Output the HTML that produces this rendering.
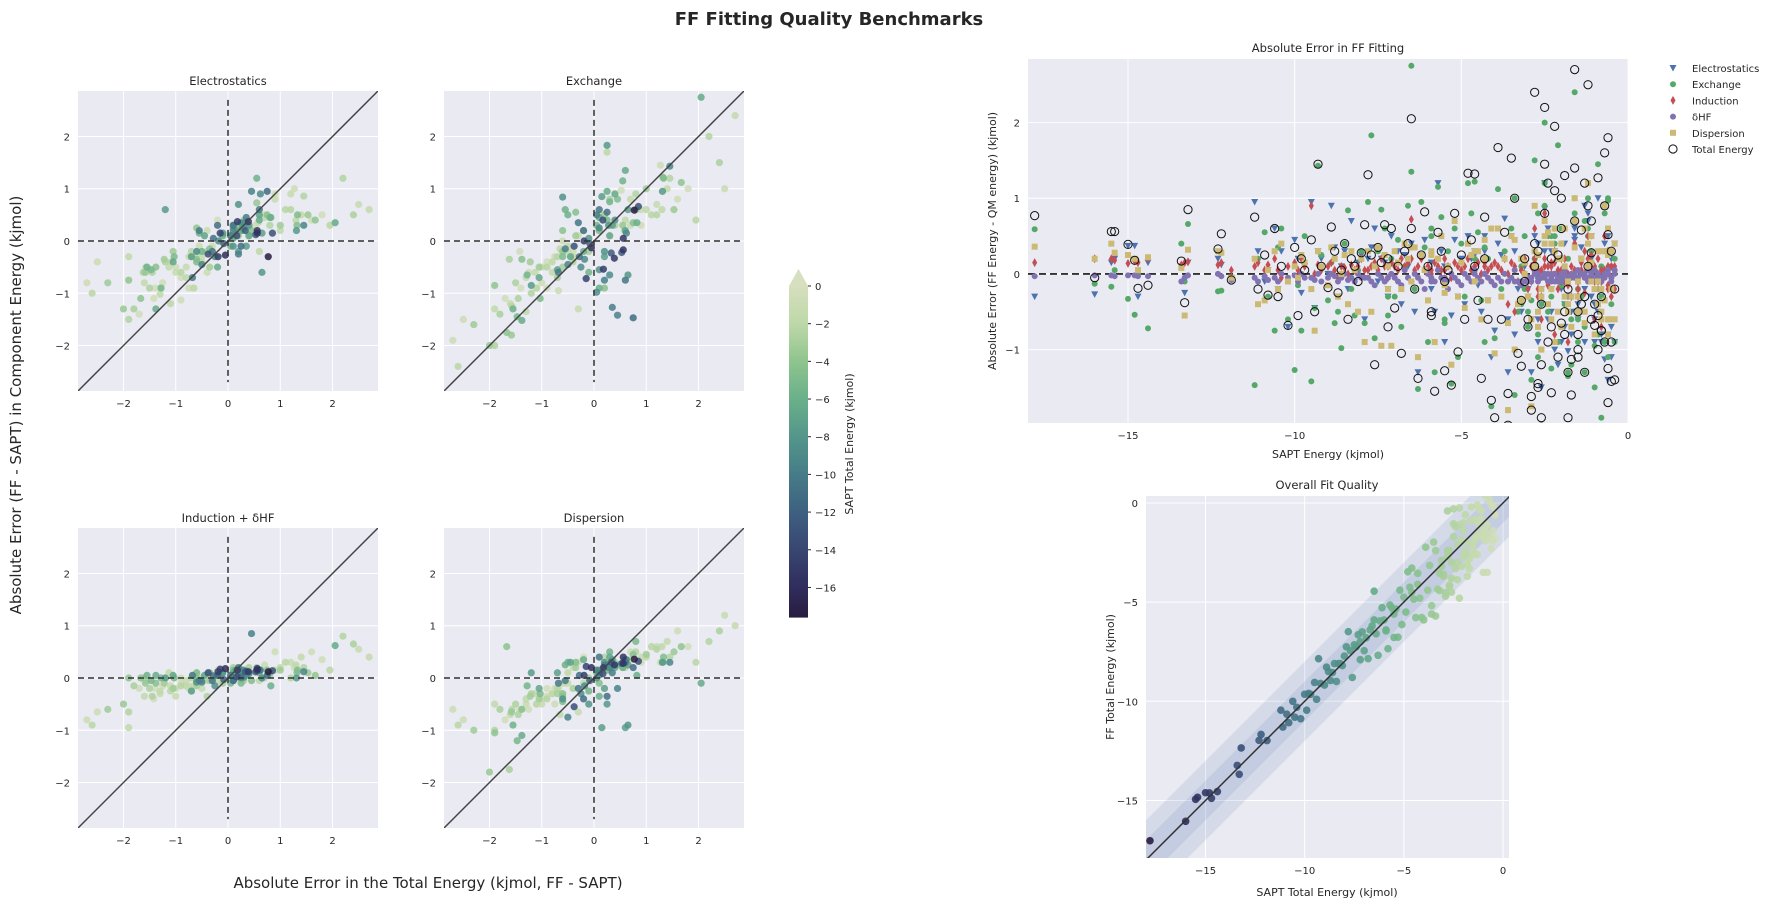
<!DOCTYPE html>
<html><head><meta charset="utf-8"><style>
body{margin:0;background:#fff;}
svg{display:block;font-family:"DejaVu Sans","Liberation Sans",sans-serif;}
</style></head><body>
<svg id="fig" width="1779" height="907" viewBox="0 0 1779 907" xmlns="http://www.w3.org/2000/svg">
<text x="829" y="25" text-anchor="middle" font-size="18" font-weight="bold" fill="#262626">FF Fitting Quality Benchmarks</text>
<text transform="translate(21,405) rotate(-90)" text-anchor="middle" font-size="15" fill="#262626">Absolute Error (FF - SAPT) in Component Energy (kjmol)</text>
<text x="428" y="888" text-anchor="middle" font-size="15" fill="#262626">Absolute Error in the Total Energy (kjmol, FF - SAPT)</text>
</svg>
<script>
const saptE = [-17.8,-16.0,-15.5,-15.4,-15.0,-14.8,-14.7,-14.4,-13.4,-13.3,-13.2,-12.3,-12.2,-11.9,
-11.2,-11.1,-10.9,-10.8,-10.6,-10.5,-10.4,-10.2,-10.0,-9.9,-9.8,-9.7,-9.5,-9.4,-9.3,-9.2,-9.0,-8.9,-8.8,-8.7,-8.6,-8.5,-8.4,-8.3,-8.2,-8.1,-8.0,-7.9,
-7.8,-7.7,-7.6,-7.5,-7.4,-7.3,-7.2,-7.1,-7.0,-6.9,-6.8,-6.7,-6.6,-6.5,-6.4,-6.3,-6.2,-6.1,-6.0,-5.9,-5.8,-5.7,-5.6,-5.5,-5.4,-5.3,-5.2,-5.1,-5.0,-4.9,-4.8,-4.7,-4.6,-4.5,-4.4,-4.3,-4.2,-4.1,-4.0,-4.6,-5.5,-6.5,-7.2,-5.9,-4.3,
-3.9,-3.8,-3.7,-3.6,-3.5,-3.4,-3.3,-3.2,-3.1,-3.0,-2.9,-2.8,-2.7,-2.6,-2.5,-2.4,-2.3,-2.2,-2.1,-2.0,-1.9,-1.8,-1.7,-1.6,-1.5,-1.4,-1.3,-1.2,-1.1,-1.0,-0.9,-0.8,-0.7,-0.6,-0.5,-3.4,-2.8,-2.2,-1.6,-1.0,-0.6,-3.6,-2.5,-1.8,-1.2,-0.8,-2.0,-1.5,-0.7,-3.1,
-2.9,-2.7,-2.6,-2.4,-2.3,-2.1,-1.9,-1.7,-1.5,-1.4,-1.3,-1.1,-0.9,-0.8,-0.6,-0.5,-0.4,-2.8,-2.5,-2.2,-2.0,-1.8,-1.6,-1.2,-1.0,-0.7,-0.5,-0.4,-3.0,-2.6,-2.3,-1.9,-1.5,-1.1,-0.9,-0.6,-3.2,-2.7,-1.3,-0.8];
const totalErr = [0.77,-0.05,0.56,0.56,0.39,0.18,-0.19,-0.15,0.17,-0.38,0.85,0.33,0.53,-0.08,
0.75,-0.2,0.25,-0.28,0.6,-0.3,0.1,-0.68,0.35,-0.55,0.2,0.05,0.45,-0.5,1.45,0.1,-0.18,0.62,0.3,-0.25,0.05,0.4,-0.6,0.2,0.1,-0.1,0.28,0.65,
1.31,0.25,-1.2,0.35,0.15,0.65,-0.7,0.6,-0.45,0.1,-1.05,0.3,0.4,2.05,-0.2,-1.38,0.25,0.82,0.1,-0.5,-1.55,0.55,0.3,-0.1,0.05,-1.47,0.8,-1.03,0.25,-0.6,1.33,0.45,0.1,-0.35,-1.38,0.2,-0.6,-1.67,-1.9,1.32,-1.28,0.6,0.2,-0.55,0.75,
1.67,-0.6,0.55,-1.58,1.53,1.0,-1.05,-1.22,0.2,-0.7,-1.62,0.1,0.3,-0.4,1.45,1.2,-1.57,1.95,0.25,-0.65,1.3,-1.3,-1.13,0.7,-0.5,0.58,-0.3,0.1,0.28,-0.68,1.27,-0.75,-0.9,0.52,-1.42,-2.3,2.4,-2.6,2.7,-2.5,1.8,-2.0,2.2,-1.9,2.5,-2.7,1.0,-1.0,0.9,-0.1,
-1.8,-1.5,-1.2,-0.9,-0.7,-1.1,-0.5,-1.6,-0.8,-0.4,-1.3,-0.6,-1.0,-0.3,-1.7,-0.9,-0.2,0.4,0.8,1.1,0.6,-0.2,1.4,0.9,-0.4,1.6,0.3,-1.4,-0.6,-1.9,0.2,-0.8,-1.1,0.7,-0.55,-1.25,-0.35,-1.45,1.2,-0.75];
const elstErr = [-0.3,-0.27,0.15,0.2,0.37,0.37,-0.3,0.15,0.1,-0.25,0.15,0.2,0.12,-0.05,
0.95,0.3,-0.1,0.05,0.6,-0.2,0.3,-0.7,0.45,0.2,-0.25,0.1,0.95,-0.45,0.3,0.2,0.0,0.9,0.35,-0.3,0.1,0.3,-0.2,0.7,-0.1,0.15,0.25,-0.6,
0.2,0.35,0.6,-0.1,0.2,0.15,-0.3,0.5,0.1,0.3,-0.4,0.25,0.1,0.35,-0.5,-1.3,0.2,0.45,0.05,-0.2,-0.5,1.2,0.3,0.1,-0.1,-0.55,0.45,-0.3,0.2,-0.4,0.5,0.2,0.25,-0.15,-0.5,0.3,-0.35,-1.1,-0.75,0.3,-0.9,0.4,-0.2,0.15,0.5,
0.4,0.25,0.73,-0.6,0.5,0.3,-0.2,-0.35,0.1,-0.3,-0.6,0.05,0.4,-0.2,0.86,0.6,-0.5,0.3,0.2,-0.9,0.4,-1.02,-0.5,0.45,-0.3,0.35,-0.2,0.1,0.2,-0.9,1.0,-0.9,-1.13,0.3,-1.1,-0.8,0.5,-1.0,0.6,-0.4,0.5,-1.3,1.2,-0.3,0.7,-0.8,0.2,-0.6,0.9,0.1,
-1.3,-0.9,-0.4,-0.6,-0.2,-1.2,-0.4,-0.8,-0.5,0.2,-0.9,-0.3,-0.5,-0.1,-1.4,-0.7,0.4,0.1,0.3,0.6,-0.2,-0.3,0.5,0.8,-0.6,0.4,0.2,-0.9,-0.2,-1.5,0.3,-0.7,-0.4,0.5,-0.1,-0.8,-0.5,-0.6,0.9,-0.3];
const exchErr = [0.59,-0.13,-0.17,0.05,-0.33,-0.54,0.0,-0.72,0.4,-0.1,0.66,-0.23,-0.22,-0.05,
-1.47,0.2,0.55,-0.3,-0.75,0.35,0.6,-0.6,-1.27,-0.15,-0.75,0.5,-1.42,-0.45,1.43,0.25,-0.35,0.15,-0.65,-0.5,-0.98,0.4,0.84,-0.2,-0.55,0.05,0.3,-0.65,
0.95,1.83,-0.85,0.3,0.85,0.6,-0.55,0.2,-0.3,0.45,-0.7,0.1,0.9,2.75,-0.2,-1.52,0.95,0.35,-0.9,0.5,-1.3,1.15,0.75,-0.6,0.3,-1.45,0.6,-1.1,0.4,-0.3,1.2,0.8,0.2,0.55,-0.35,-0.9,0.2,-1.75,-0.85,1.22,-0.65,1.35,-0.3,0.6,0.35,
1.12,-0.2,0.3,-1.8,0.6,1.0,-0.5,-0.4,0.5,-0.7,-0.35,0.2,0.8,-0.4,1.2,0.5,-1.25,0.4,1.7,-0.15,0.6,-1.35,-0.6,0.8,-0.2,0.2,-1.3,0.5,0.3,-0.95,1.45,-0.6,-0.9,0.97,-0.2,-1.6,1.5,-2.4,2.4,-1.5,1.0,-2.0,2.0,-1.3,1.0,-1.9,0.6,-0.5,0.3,-0.2,
-1.4,-0.8,-1.0,-0.5,-0.3,-0.9,-0.1,-1.2,-0.6,-0.3,-0.7,0.0,-0.8,0.1,-1.1,-0.4,0.2,0.3,0.9,0.5,0.4,0.2,1.0,0.6,-0.2,0.8,0.1,-0.9,-0.5,-2.0,0.5,-0.4,-0.9,0.3,-0.2,-0.6,0.1,-1.1,0.7,-0.3];
const indErr = [0.15,0.2,0.2,0.18,0.14,0.17,0.15,0.2,0.12,0.15,0.16,0.12,0.15,0.05,
0.1,0.15,0.05,0.12,0.2,0.05,-0.05,0.1,0.15,0.05,0.2,0.1,0.9,0.0,0.12,0.05,0.1,0.15,0.05,-0.05,0.1,0.08,0.0,0.12,0.05,0.1,0.2,0.05,
0.05,0.1,0.15,0.05,0.2,0.1,-0.05,0.15,0.1,0.05,0.2,0.1,0.15,0.72,0.05,0.1,0.2,0.05,0.1,0.0,0.15,0.1,0.05,0.2,0.1,-0.05,0.15,0.1,0.05,0.1,0.2,0.05,0.1,0.15,0.0,0.1,0.05,0.1,0.15,0.1,0.05,0.2,0.1,0.05,0.15,
0.1,0.05,0.2,0.0,0.15,0.1,-0.1,0.05,0.2,-0.2,0.1,0.15,0.05,-0.3,0.2,0.1,0.0,0.15,0.05,-0.1,0.2,-0.15,0.1,0.05,-0.1,0.15,0.0,0.1,-0.05,0.1,0.2,-0.1,0.05,0.1,-0.3,-0.5,0.6,-0.8,0.4,-0.6,0.3,-0.4,0.8,-0.9,0.5,-0.7,0.2,-0.3,0.5,0.0,
-0.1,-0.2,0.05,-0.15,0.1,-0.2,0.0,-0.3,-0.1,0.05,-0.25,0.1,-0.1,0.05,-0.2,-0.05,0.1,0.2,0.1,0.3,0.05,0.0,0.4,0.2,-0.1,0.5,0.1,-0.2,-0.05,-0.6,0.15,-0.1,-0.2,0.25,0.0,-0.15,0.05,-0.3,0.3,-0.1];
const dhfErr = [-0.03,-0.02,-0.02,-0.03,-0.02,-0.02,-0.03,-0.03,-0.1,-0.05,-0.02,0.0,-0.03,-0.08,
-0.05,-0.1,-0.03,-0.08,-0.05,-0.1,0.0,-0.05,-0.02,-0.1,0.0,-0.05,-0.05,-0.08,0.0,-0.1,-0.05,0.0,-0.03,-0.1,-0.05,0.0,-0.08,-0.05,-0.1,0.0,-0.05,-0.05,
-0.05,-0.1,-0.15,0.0,-0.05,-0.1,-0.2,0.0,-0.05,-0.1,-0.15,0.05,-0.05,-0.1,0.0,-0.05,-0.1,-0.2,0.0,-0.05,-0.1,0.05,-0.05,-0.1,-0.2,0.0,-0.05,-0.1,-0.15,0.0,-0.05,-0.1,0.05,-0.05,-0.1,0.0,-0.05,-0.1,-0.15,0.0,-0.05,-0.1,-0.05,-0.1,0.0,
-0.05,-0.1,0.0,-0.1,-0.05,0.05,-0.1,-0.15,0.0,-0.05,-0.1,0.05,-0.1,-0.05,0.0,-0.1,-0.05,0.0,-0.1,-0.05,0.05,-0.1,0.0,-0.05,-0.1,0.0,-0.05,-0.1,0.05,-0.05,0.0,-0.1,-0.05,0.0,-0.1,-0.1,0.05,-0.1,0.0,-0.05,0.05,-0.1,0.0,-0.05,0.05,-0.1,0.0,-0.05,0.0,-0.1,
-0.05,0.0,-0.05,0.0,-0.1,-0.05,0.0,-0.05,0.05,0.0,-0.05,0.0,-0.1,-0.05,0.0,-0.05,0.05,0.0,-0.05,0.0,-0.1,-0.05,0.0,-0.05,0.05,0.0,-0.05,0.0,-0.1,-0.05,0.0,-0.05,0.05,0.0,-0.05,0.0,-0.1,-0.05,0.0,-0.05];
const dispErr = [0.36,0.2,0.4,0.28,0.25,0.2,0.05,0.22,0.08,-0.55,0.32,0.3,0.28,-0.05,
0.2,-0.4,-0.35,0.05,0.3,-0.2,0.4,-0.1,0.1,-0.05,0.25,0.15,-0.2,-0.75,0.3,0.1,-0.15,0.35,0.2,-0.3,0.0,0.25,-0.4,0.3,0.05,-0.5,0.2,-0.9,
0.3,-0.5,0.1,0.35,-0.95,0.25,0.1,-0.95,0.3,0.15,-0.2,0.4,0.2,-0.1,0.35,-1.1,0.25,0.05,-0.35,0.3,-0.9,0.2,0.5,-0.25,0.1,-1.2,0.7,-0.3,0.15,-0.45,0.4,0.25,-0.1,0.3,-0.6,0.2,-0.35,0.6,-1.05,0.3,-0.15,0.35,-0.2,0.25,0.45,
0.6,-0.3,0.2,-0.65,0.5,0.45,-0.4,-0.35,0.15,-0.3,-1.75,0.1,0.25,-0.2,0.4,0.55,-0.6,0.3,0.2,-0.7,0.6,-0.4,-0.3,0.35,-0.1,0.2,-0.65,0.1,0.15,-0.2,0.3,-0.5,-0.35,0.25,-0.6,-1.0,0.9,-0.9,1.0,-0.8,0.6,-1.8,0.7,-0.5,1.2,-0.6,0.4,-0.5,0.3,0.0,
-0.6,-0.5,-0.3,-0.4,-0.2,-0.5,0.1,-0.7,-0.3,0.2,-0.5,-0.1,-0.4,0.3,-0.8,-0.2,0.4,0.3,0.5,0.6,0.2,-0.1,0.7,0.4,-0.2,0.9,0.3,-0.6,-0.3,-1.0,0.4,-0.3,-0.5,0.5,-0.1,-0.6,0.2,-0.7,0.6,-0.2];
const smallTicks = [-2,-1,0,1,2];
const topXTicks = [-15,-10,-5,0];
const topYTicks = [-1,0,1,2];
const fitTicks = [-15,-10,-5,0];
const cbarTicks = [0,-2,-4,-6,-8,-10,-12,-14,-16];

const NS="http://www.w3.org/2000/svg";
const fig=document.getElementById('fig');
function mk(tag,attrs,parent){const e=document.createElementNS(NS,tag);for(const k in attrs)e.setAttribute(k,attrs[k]);(parent||fig).appendChild(e);return e;}
function fmt(v){return v<0?'\u2212'+Math.abs(v):String(v);}
const stops=[[0,[214,223,190]],[-2,[190,216,168]],[-4,[143,196,142]],[-6,[106,176,138]],[-8,[84,150,138]],[-10,[70,124,136]],[-12,[62,96,128]],[-14,[56,70,114]],[-16,[48,45,92]],[-17.7,[40,28,64]]];
function cmap(v){if(v>=0)return 'rgb(214,223,190)';for(let i=0;i<stops.length-1;i++){const a=stops[i],b=stops[i+1];if(v<=a[0]&&v>=b[0]){const f=(a[0]-v)/(a[0]-b[0]);const c=a[1].map((x,j)=>Math.round(x+(b[1][j]-x)*f));return 'rgb('+c.join(',')+')';}}return 'rgb(40,28,64)';}
let clipId=0;
function axes(name,x0,y0,w,h,xmin,xmax,ymin,ymax,xt,yt){
  const g=mk('g',{});
  const sx=v=>x0+(v-xmin)/(xmax-xmin)*w, sy=v=>y0+h-(v-ymin)/(ymax-ymin)*h;
  const bg=mk('rect',{x:x0,y:y0,width:w,height:h,fill:'#EAEAF2'},g);
  
  xt.forEach(t=>{const l=mk('line',{x1:sx(t),x2:sx(t),y1:y0,y2:y0+h,stroke:'#fff','stroke-width':1},g);
    const tx=mk('text',{x:sx(t),y:y0+h+16,'text-anchor':'middle','font-size':10,fill:'#262626'},g);tx.textContent=fmt(t);});
  yt.forEach(t=>{const l=mk('line',{x1:x0,x2:x0+w,y1:sy(t),y2:sy(t),stroke:'#fff','stroke-width':1},g);
    const tx=mk('text',{x:x0-8,y:sy(t)+4,'text-anchor':'end','font-size':10,fill:'#262626'},g);tx.textContent=fmt(t);});
  const id='c'+(clipId++);const cp=mk('clipPath',{id:id},g);mk('rect',{x:x0,y:y0,width:w,height:h},cp);
  const inner=mk('g',{'clip-path':'url(#'+id+')'},g);
  return {g,inner,sx,sy,x0,y0,w,h};
}
function title(g,x,y,s,name){const t=mk('text',{x:x,y:y,'text-anchor':'middle','font-size':11.5,fill:'#262626'},g);t.textContent=s;}

const compPanels=[
 ['electrostatics-panel','Electrostatics',78,91,elstErr,i=>elstErr[i]],
 ['exchange-panel','Exchange',444,91,exchErr,i=>exchErr[i]],
 ['induction-dhf-panel','Induction + \u03b4HF',78,528,indErr,i=>indErr[i]+dhfErr[i]],
 ['dispersion-panel','Dispersion',444,528,dispErr,i=>dispErr[i]]];
compPanels.forEach(p=>{
  const A=axes(p[0],p[2],p[3],300,300,-2.87,2.87,-2.87,2.87,smallTicks,smallTicks);
  title(A.g,p[2]+150,p[3]-6,p[1],'panel-title');
  const order=saptE.map((e,i)=>i).sort((a,b)=>saptE[b]-saptE[a]);
  order.forEach(i=>{const x=totalErr[i],y=p[5](i);if(!isFinite(x)||!isFinite(y))return;
    const c=mk('circle',{cx:A.sx(x),cy:A.sy(y),r:3.6,fill:cmap(saptE[i]),'fill-opacity':0.85},A.inner);
    });
  const d=mk('line',{x1:A.sx(-2.87),y1:A.sy(-2.87),x2:A.sx(2.87),y2:A.sy(2.87),stroke:'#444','stroke-width':1.5},A.inner);
  const h=mk('line',{x1:A.x0,x2:A.x0+A.w,y1:A.sy(0),y2:A.sy(0),stroke:'#333','stroke-width':1.5,'stroke-dasharray':'6,4'},A.inner);
  const v=mk('line',{x1:A.sx(0),x2:A.sx(0),y1:A.sy(2.7),y2:A.sy(-2.7),stroke:'#333','stroke-width':1.5,'stroke-dasharray':'6,4'},A.inner);
});

// colorbar
(function(){
  const g=mk('g',{});
  const cy=v=>286-v*18.84;const defs=mk('defs',{},g);
  const lg=mk('linearGradient',{id:'cbg',x1:0,y1:0,x2:0,y2:1},defs);
  stops.forEach(s=>mk('stop',{offset:(-s[0]/17.6),'stop-color':cmap(s[0])},lg));
  mk('rect',{x:789,y:286,width:19,height:cy(-17.6)-286,fill:'url(#cbg)'},g);
  mk('polygon',{points:'789,286 808,286 798.5,269',fill:cmap(0)},g);
  cbarTicks.forEach(t=>{mk('line',{x1:808,x2:811,y1:cy(t),y2:cy(t),stroke:'#262626'},g);
    const tx=mk('text',{x:815,y:cy(t)+4,'font-size':10,fill:'#262626'},g);tx.textContent=fmt(t);});
  const lb=mk('text',{transform:'translate(853,444) rotate(-90)','text-anchor':'middle','font-size':11,fill:'#262626'},g);lb.textContent='SAPT Total Energy (kjmol)';
})();

// top right
(function(){
  const A=axes('absolute-error-panel',1028,59,600,364,-18.0,0,-1.97,2.84,topXTicks,topYTicks);
  title(A.g,1328,52,'Absolute Error in FF Fitting','panel-title');
  const xl=mk('text',{x:1328,y:458,'text-anchor':'middle','font-size':11,fill:'#262626'},A.g);xl.textContent='SAPT Energy (kjmol)';
  const yl=mk('text',{transform:'translate(996,241) rotate(-90)','text-anchor':'middle','font-size':11,fill:'#262626'},A.g);yl.textContent='Absolute Error (FF Energy - QM energy) (kjmol)';
  const h=mk('line',{x1:A.x0,x2:A.x0+A.w,y1:A.sy(0),y2:A.sy(0),stroke:'#333','stroke-width':1.8,'stroke-dasharray':'7,4'},A.inner);
  function marker(kind,x,y,parent,col){let e;
    if(kind==='tri')e=mk('polygon',{points:(x-3.5)+','+(y-3)+' '+(x+3.5)+','+(y-3)+' '+x+','+(y+3.5),fill:col},parent);
    else if(kind==='dot')e=mk('circle',{cx:x,cy:y,r:3,fill:col},parent);
    else if(kind==='dia')e=mk('polygon',{points:x+','+(y-4.5)+' '+(x+2.5)+','+y+' '+x+','+(y+4.5)+' '+(x-2.5)+','+y,fill:col},parent);
    else if(kind==='hex')e=mk('circle',{cx:x,cy:y,r:3,fill:col},parent);
    else if(kind==='sq')e=mk('rect',{x:x-3,y:y-3,width:6,height:6,fill:col},parent);
    else e=mk('circle',{cx:x,cy:y,r:4.1,fill:'none',stroke:'#111','stroke-width':1},parent);
    return e;}
  const series=[['Electrostatics','tri','#4C72B0',elstErr],['Exchange','dot','#55A868',exchErr],['Induction','dia','#C44E52',indErr],['\u03b4HF','hex','#8172B2',dhfErr],['Dispersion','sq','#CCB974',dispErr],['Total Energy','open','#111',totalErr]];
  series.forEach((s,k)=>{
    saptE.forEach((e,i)=>{const v=s[3][i];if(!isFinite(v))return;const m=marker(s[1],A.sx(e),A.sy(v),A.inner,s[2]);
      
      });
    const lg=mk('g',{},fig);
    const ly=68+k*16.2;marker(s[1],1673,ly,lg,s[2]);
    const t=mk('text',{x:1692,y:ly+4,'font-size':10,fill:'#262626'},lg);t.textContent=s[0];
  });
})();

// bottom right
(function(){
  const A=axes('overall-fit-panel',1146,496,363,362,-18.0,0.3,-17.9,0.35,fitTicks,fitTicks);
  title(A.g,1327,489,'Overall Fit Quality','panel-title');
  const xl=mk('text',{x:1327,y:896,'text-anchor':'middle','font-size':11,fill:'#262626'},A.g);xl.textContent='SAPT Total Energy (kjmol)';
  const yl=mk('text',{transform:'translate(1114,677) rotate(-90)','text-anchor':'middle','font-size':11,fill:'#262626'},A.g);yl.textContent='FF Total Energy (kjmol)';
  [2,1].forEach(b=>{const a=-20,z=2;const pts=[[a,a-b],[z,z-b],[z,z+b],[a,a+b]].map(p=>A.sx(p[0])+','+A.sy(p[1])).join(' ');
    const p=mk('polygon',{points:pts,fill:'#4C72B0','fill-opacity':0.13},A.inner);});
  const order=saptE.map((e,i)=>i).sort((a,b)=>saptE[b]-saptE[a]);
  order.forEach(i=>{const e=saptE[i],t=totalErr[i];if(!isFinite(e)||!isFinite(t))return;
    const c=mk('circle',{cx:A.sx(e),cy:A.sy(e+t),r:3.8,fill:cmap(e),'fill-opacity':0.9},A.inner);
    });
  const d=mk('line',{x1:A.sx(-20),y1:A.sy(-20),x2:A.sx(2),y2:A.sy(2),stroke:'#333','stroke-width':1.5},A.inner);
})();
</script>
</body></html>
